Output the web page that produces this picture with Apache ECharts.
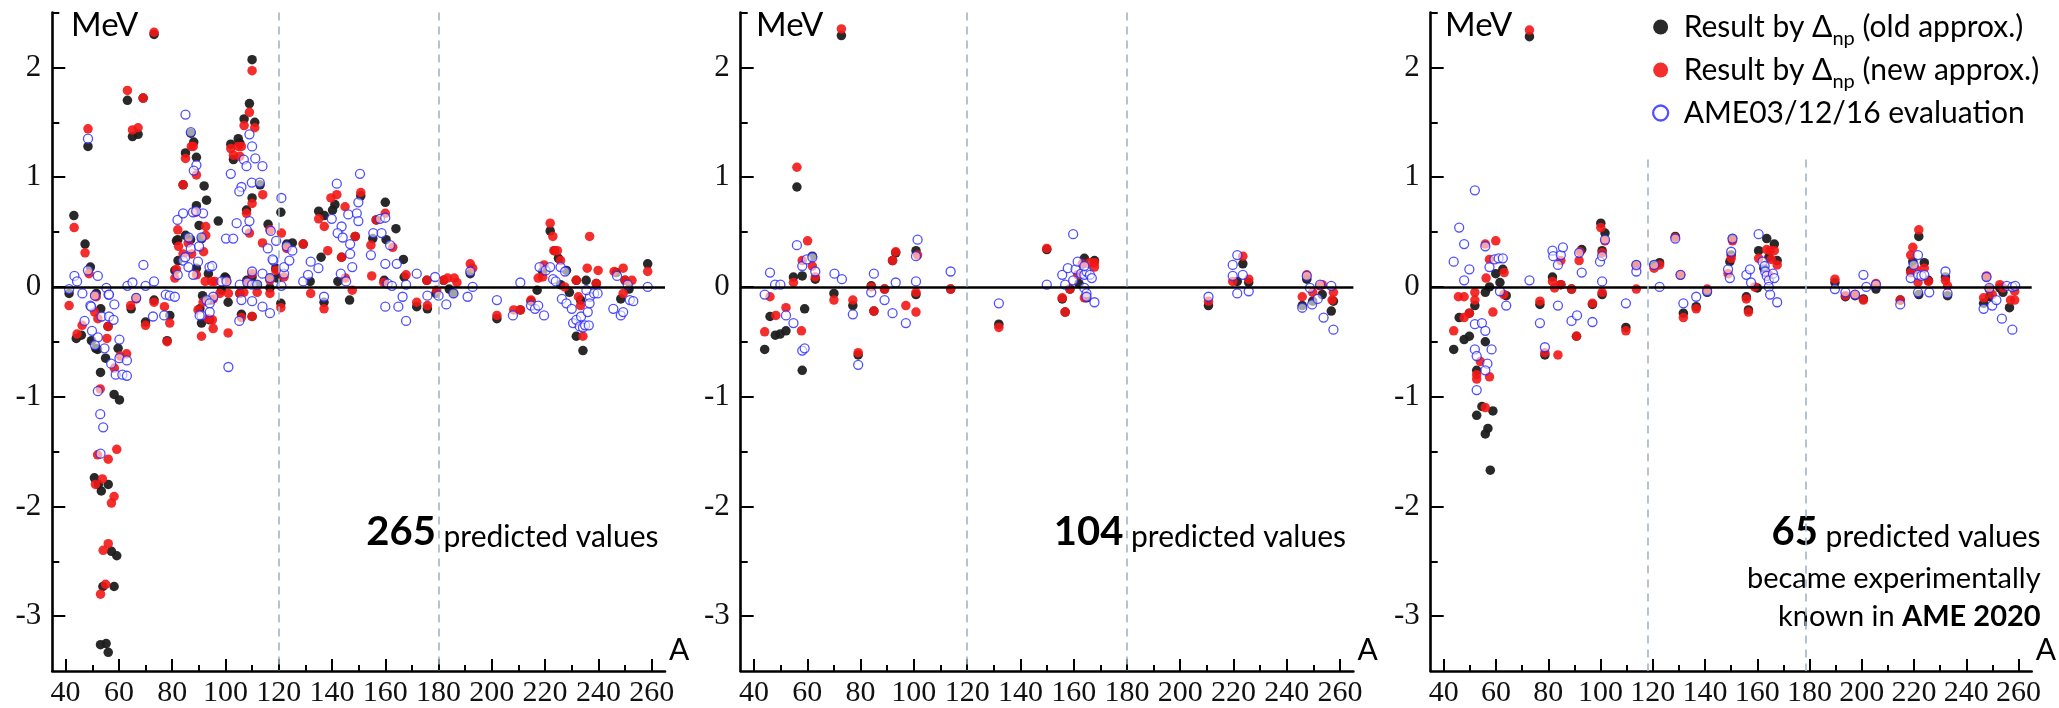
<!DOCTYPE html>
<html>
<head>
<meta charset="utf-8">
<script src="https://cdn.jsdelivr.net/npm/echarts@6/dist/echarts.min.js"></script>
<style>
  html, body { margin: 0; padding: 0; background: #fff; }
  #chart { width: 2059px; height: 708px; }
</style>
</head>
<body>
<div id="chart"></div>
<script>
// ---- axis ticks -----------------------------------------------------------
const xMajorTicks = [40, 60, 80, 100, 120, 140, 160, 180, 200, 220, 240, 260];
const xMinorTicks = [50, 70, 90, 110, 130, 150, 170, 190, 210, 230, 250];
const yMajorTicks = [-3, -2, -1, 0, 1, 2];
const yMinorTicks = [-2.5, -1.5, -0.5, 0.5, 1.5, 2.5];

// shell-closure markers (A) per panel and the value where each dashed line starts
const panelDividers = [[120, 180], [120, 180], [118.1, 178.4]];
const dividerTops = [2.5, 2.5, 1.16];

// number of predicted values in each panel
const predictedCounts = [265, 104, 65];

// ---- panel 1: all predicted values [A, deviation MeV] ---------------------
const panel1Old = [
  [41.3,-0.06],[43.1,0.65],[44.0,-0.47],[45.9,-0.44],[47.3,0.39],[49.3,0.18],[48.4,1.28],[51.5,-0.06],[53.2,-0.20],[55.9,-0.36],
  [49.7,-0.49],[51.3,-0.56],[55.0,-0.65],[52.0,-0.57],[53.1,-0.78],[58.2,-0.98],[60.2,-1.03],[59.7,-0.56],
  [50.8,-1.74],[53.4,-1.86],[52.3,-1.80],[56.0,-1.80],[57.2,-2.41],[59.2,-2.45],[54.0,-2.73],[58.2,-2.73],[53.1,-3.26],[55.2,-3.25],[56.0,-3.33],
  [63.2,1.70],[65.1,1.37],[67.2,1.39],[69.1,1.72],[73.2,2.30],[66.5,-0.10],[64.6,-0.20],[70.0,-0.32],[73.2,-0.12],[78.1,-0.49],[79.1,-0.26],
  [82.1,0.43],[84.1,0.93],[85.0,1.22],[87.0,1.40],[88.1,1.32],[89.1,1.18],[92.0,0.92],[92.9,0.79],[89.1,0.74],[97.3,0.60],[90.1,0.56],
  [81.0,0.15],[82.2,0.24],[81.6,0.42],[85.0,0.47],[86.9,0.43],[89.1,0.17],[91.1,0.44],[93.6,0.12],[99.8,0.09],[98.5,-0.03],[94.5,-0.12],
  [91.4,-0.08],[90.4,-0.20],[94.1,-0.30],[91.0,-0.33],[100.2,0.08],[101.0,-0.14],
  [105.4,1.31],[102.0,1.30],[103.0,1.16],[107.0,1.53],[104.8,1.35],[109.0,1.67],[110.0,2.07],[111.0,1.50],[110.0,0.81],[107.9,0.70],[113.0,0.93],[116.0,0.57],[120.8,0.68],
  [105.4,-0.06],[108.0,0.06],[111.9,0.02],[110.0,0.09],[116.7,0.08],[118.9,0.17],[119.5,0.08],[116.7,-0.01],[110.0,-0.27],[106.0,-0.25],[120.8,-0.15],
  [123.0,0.39],[125.1,0.40],[129.2,0.39],[131.8,0.05],[135.0,0.69],[137.1,0.65],[135.9,0.27],[137.0,-0.14],[141.1,0.75],[140.2,0.70],[150.8,0.83],
  [148.7,0.46],[143.6,0.27],[142.2,0.05],[146.6,-0.12],
  [156.6,0.61],[160.0,0.77],[164.0,0.53],[155.3,0.44],[160.3,0.43],[166.8,0.25],[159.6,0.06],[167.1,0.09],[171.8,-0.18],[175.8,-0.20],[175.6,0.06],[179.0,-0.06],
  [181.9,0.06],[184.0,-0.02],[185.6,-0.06],[191.9,0.12],[201.9,-0.29],[210.7,-0.21],[214.7,-0.13],[217.0,-0.03],[219.1,0.14],[221.9,0.51],[223.5,0.33],
  [225.0,0.26],[228.0,0.15],[225.8,0.02],[229.1,-0.05],[231.7,0.06],[233.3,-0.12],[231.7,-0.45],[234.2,-0.58],[235.4,0.06],[239.2,0.03],[246.7,0.13],
  [248.4,-0.11],[250.0,0.06],[251.5,-0.02],[258.5,0.21]
];
const panel1New = [
  [41.3,-0.17],[43.2,0.54],[44.3,-0.43],[46.2,-0.35],[47.3,0.31],[48.8,0.12],[48.4,1.44],[51.5,-0.09],[51.0,-0.08],[50.9,-0.23],[52.1,-0.29],
  [55.5,-0.47],[56.0,-0.36],[60.5,-0.63],[58.3,-0.74],[53.0,-0.93],[59.2,-1.48],[52.0,-1.53],[56.0,-1.57],[51.2,-1.80],[53.8,-1.75],[58.2,-1.91],
  [57.2,-1.97],[56.0,-2.34],[54.1,-2.40],[55.0,-2.71],[53.1,-2.80],[62.9,-0.61],
  [63.2,1.79],[65.1,1.43],[67.2,1.45],[69.1,1.72],[73.2,2.32],[66.5,-0.11],[64.4,-0.17],[70.0,-0.35],[73.2,-0.14],[78.1,-0.50],[79.1,-0.33],[77.1,-0.18],
  [82.1,0.52],[84.1,0.93],[85.0,1.17],[87.2,1.28],[87.9,1.28],[89.1,1.02],[88.9,0.68],[92.6,0.55],[92.6,0.47],[82.4,0.37],[84.1,0.30],[86.0,0.40],
  [87.3,0.30],[81.6,0.16],[81.0,0.08],[89.1,0.11],[91.8,0.32],[92.4,0.05],[94.8,0.05],[96.0,0.05],[100.4,0.05],[97.9,-0.06],[95.4,-0.11],[91.6,-0.14],
  [89.7,-0.21],[93.5,-0.29],[91.0,-0.45],[95.4,-0.38],[95.1,-0.30],[101.0,-0.42],[101.1,-0.06],
  [105.4,1.19],[102.0,1.26],[103.0,1.20],[107.0,1.47],[104.8,1.28],[106.0,1.28],[109.0,1.59],[110.0,1.97],[111.0,1.45],[110.0,0.76],[107.9,0.67],
  [114.0,0.84],[109.0,0.49],[116.7,0.52],[113.9,0.40],[121.0,0.49],[105.4,-0.06],[106.9,-0.05],[108.2,0.04],[111.9,-0.05],[110.0,0.12],[116.7,0.06],
  [118.9,0.15],[116.7,-0.06],[110.0,-0.27],[106.0,-0.28],[120.8,-0.19],[122.0,0.09],
  [123.0,0.35],[129.2,0.39],[132.0,-0.06],[135.0,0.62],[137.1,0.55],[137.0,-0.20],[139.6,0.81],[141.8,0.84],[144.9,0.73],[150.8,0.86],[148.7,0.46],
  [143.6,0.27],[138.4,0.33],[147.6,-0.03],[145.0,0.08],[154.9,0.10],[156.6,0.61],[160.0,0.67],[154.6,0.38],[159.4,0.04],[162.8,0.36],[167.8,0.11],
  [171.8,-0.14],[175.8,-0.17],[175.6,0.06],[179.3,-0.03],
  [181.9,0.06],[183.4,0.08],[185.9,0.08],[186.9,0.04],[191.9,0.21],[192.8,0.17],[201.9,-0.26],[208.2,-0.21],[210.7,-0.21],[214.7,-0.12],[217.4,0.08],
  [219.1,0.09],[219.6,0.20],[221.9,0.58],[222.9,0.46],[223.3,0.33],[224.6,0.33],[225.8,0.24],[227.4,0.00],[231.7,0.06],[233.3,-0.17],[232.5,-0.09],
  [234.2,-0.45],[235.8,0.17],[236.7,0.46],[239.9,0.15],[239.2,0.03],[245.9,0.14],[249.3,0.17],[250.0,0.06],[249.3,-0.06],[252.6,0.06],[258.5,0.14]
];
const panel1Ame = [
  [41.3,-0.02],[43.3,0.10],[44.3,0.05],[46.3,-0.06],[48.4,0.15],[48.4,1.35],[52.1,0.10],[55.3,-0.01],[56.1,-0.07],[58.3,-0.16],[49.3,-0.17],[47.1,-0.31],
  [51.0,-0.08],[49.6,-0.18],[49.9,-0.40],[53.5,-0.27],[56.3,-0.27],[56.3,-0.07],[58.0,-0.30],[52.1,-0.46],[51.0,-0.53],[54.6,-0.56],[60.2,-0.48],
  [60.2,-0.65],[57.1,-0.70],[58.8,-0.80],[61.3,-0.80],[63.0,-0.81],[63.0,-0.67],[52.1,-0.95],[53.0,-1.16],[54.1,-1.28],[53.1,-1.52],
  [63.2,0.01],[65.1,0.04],[69.2,0.20],[70.0,0.01],[73.2,0.05],[66.5,-0.10],[72.8,-0.27],[77.6,-0.07],[79.1,-0.08],[81.0,-0.09],[77.0,-0.26],
  [82.0,0.61],[84.1,0.67],[85.0,1.57],[87.0,1.41],[89.1,1.11],[88.1,1.06],[91.6,0.67],[87.8,0.68],[89.0,0.69],[100.2,0.44],[102.9,0.44],[104.2,0.58],
  [86.2,0.45],[87.0,0.35],[84.1,0.24],[84.9,0.27],[86.1,0.18],[87.9,0.11],[89.7,0.23],[90.1,0.37],[91.0,0.45],[82.1,0.11],[94.0,0.18],[95.0,0.19],
  [98.5,0.05],[95.4,-0.09],[92.9,-0.12],[94.1,-0.15],[91.0,-0.26],[94.1,-0.23],[100.4,0.05],[101.1,-0.73],[90.3,-0.26],
  [109.0,1.39],[110.0,1.28],[111.2,1.17],[113.9,1.10],[106.9,1.16],[107.9,1.10],[102.0,1.03],[106.0,0.91],[105.2,0.87],[109.9,0.95],[112.9,0.95],
  [109.0,0.60],[108.0,0.52],[117.0,0.51],[119.0,0.42],[118.0,0.24],[121.0,0.81],[113.9,0.12],[110.0,0.14],[105.4,0.02],[106.0,-0.12],[108.2,0.04],
  [110.0,0.02],[110.0,-0.13],[111.9,0.02],[116.7,0.08],[117.7,0.25],[105.2,-0.31],[116.7,-0.24],[113.9,-0.18],[121.0,0.01],[122.0,0.12],[122.0,0.18],[115.9,0.35],
  [123.0,0.37],[125.1,0.33],[124.0,0.24],[129.2,0.05],[131.0,0.11],[132.0,0.23],[134.9,0.17],[137.0,-0.09],[141.8,0.94],[139.9,0.62],[150.5,1.03],
  [149.9,0.77],[149.3,0.67],[149.9,0.60],[146.1,0.66],[143.6,0.55],[142.1,0.49],[144.0,0.45],[146.8,0.39],[146.8,0.30],[143.3,0.12],[145.3,0.05],
  [147.6,0.18],[158.0,0.62],[160.0,0.63],[155.5,0.49],[158.6,0.49],[160.0,0.21],[161.8,0.38],[154.6,0.29],[164.3,0.21],[160.9,0.03],[162.5,0.01],
  [160.0,-0.18],[164.9,-0.18],[167.8,-0.31],[166.5,-0.09],[167.8,0.02],[171.8,0.12],[175.8,-0.08],[178.7,0.09],[180.0,-0.08],
  [182.9,-0.16],[185.6,-0.06],[190.9,-0.09],[191.9,0.14],[192.8,0.00],[201.9,-0.12],[207.9,-0.26],[210.7,0.04],[214.7,-0.17],[216.2,-0.20],[217.4,-0.17],
  [219.6,-0.26],[217.9,0.18],[220.2,0.15],[221.9,0.18],[225.8,0.18],[227.5,0.14],[223.0,0.07],[224.0,0.05],[226.3,-0.11],[228.0,-0.15],[230.0,-0.20],
  [230.5,-0.33],[231.7,-0.30],[233.0,-0.36],[234.2,-0.37],[235.0,-0.35],[236.4,-0.35],[233.5,-0.27],[236.0,-0.23],[236.8,-0.09],[235.5,-0.03],[236.7,-0.15],
  [238.4,-0.06],[239.7,-0.06],[247.0,0.10],[245.6,-0.20],[248.4,-0.26],[249.3,-0.23],[251.0,0.02],[251.8,-0.12],[253.1,-0.13],[258.5,0.00]
];

// ---- panel 2 ---------------------------------------------------------------
const panel2Old = [
  [72.8,2.29],[56.1,0.91],[61.9,0.28],[63.0,0.07],[54.8,0.09],[58.1,0.10],[46.0,-0.27],[59.0,-0.20],[48.0,-0.44],[49.8,-0.43],[52.0,-0.40],[44.0,-0.57],
  [58.1,-0.76],[79.1,-0.62],[70.0,-0.06],[77.1,-0.17],[84.0,0.01],[85.0,-0.22],[89.0,-0.02],[92.0,0.24],[93.2,0.31],[100.8,0.33],[100.8,-0.07],
  [113.8,-0.02],[131.9,-0.34],[149.9,0.34],[155.7,-0.11],[156.8,-0.23],[158.6,-0.02],[164.0,0.26],[162.0,0.03],[164.8,-0.10],[167.8,0.24],
  [210.6,-0.17],[223.5,0.21],[221.4,0.05],[225.7,0.04],[247.5,0.07],[245.8,-0.17],[249.7,-0.13],[253.3,-0.07],[257.5,-0.13],[256.7,-0.22]
];
const panel2New = [
  [72.8,2.35],[56.1,1.09],[60.1,0.42],[58.1,0.24],[61.9,0.19],[63.0,0.09],[54.8,0.04],[46.0,-0.09],[48.2,-0.26],[52.0,-0.19],[44.0,-0.41],[57.8,-0.40],
  [79.1,-0.60],[70.0,-0.12],[77.1,-0.12],[84.0,0.00],[85.0,-0.22],[89.0,-0.02],[92.0,0.24],[93.2,0.32],[97.0,-0.17],[101.4,0.29],[100.8,-0.05],[100.8,-0.23],
  [113.8,-0.02],[131.9,-0.37],[149.9,0.35],[155.7,-0.10],[156.8,-0.23],[158.6,-0.02],[163.2,0.21],[161.5,0.11],[164.0,-0.10],[166.1,0.22],[167.8,0.22],
  [167.8,0.18],[210.6,-0.13],[223.5,0.28],[219.7,0.05],[225.7,0.07],[247.5,0.11],[245.8,-0.09],[249.7,-0.05],[252.5,0.01],[253.3,0.02],[257.5,-0.05],[257.0,-0.12]
];
const panel2Ame = [
  [56.1,0.38],[58.1,0.19],[59.8,0.25],[61.9,0.27],[63.0,0.14],[46.0,0.13],[47.9,0.02],[49.9,0.02],[44.0,-0.07],[52.0,-0.26],[54.8,-0.33],[58.1,-0.58],
  [59.0,-0.56],[79.1,-0.71],[70.2,0.12],[73.0,0.07],[77.1,-0.25],[84.0,-0.05],[85.0,0.12],[89.0,-0.12],[93.2,0.04],[92.0,-0.24],[97.0,-0.33],[101.4,0.43],
  [100.8,0.28],[100.8,0.05],[113.8,0.14],[131.9,-0.15],[149.9,0.02],[159.8,0.48],[155.7,0.11],[157.8,0.17],[156.8,0.02],[159.8,0.06],[160.7,0.16],
  [161.5,0.23],[162.8,0.12],[164.0,0.11],[164.8,0.14],[164.0,0.19],[164.0,-0.01],[164.8,-0.06],[164.8,-0.09],[166.1,0.11],[166.8,0.08],[167.8,-0.14],
  [210.6,-0.09],[219.7,0.20],[221.4,0.29],[219.7,0.10],[223.5,0.11],[221.4,-0.06],[225.7,-0.04],[247.5,0.10],[245.8,-0.19],[248.7,-0.01],[249.5,-0.16],
  [251.6,-0.11],[252.5,0.02],[253.8,-0.28],[257.5,-0.39],[256.7,0.01]
];

// ---- panel 3 ---------------------------------------------------------------
const panel3Old = [
  [72.8,2.28],[59.9,0.12],[62.6,0.16],[61.5,0.04],[57.5,0.00],[55.9,-0.05],[63.9,-0.08],[51.9,-0.17],[45.9,-0.28],[49.8,-0.24],[47.8,-0.48],[49.8,-0.45],
  [43.8,-0.57],[55.9,-0.50],[52.6,-0.76],[54.6,-1.09],[52.6,-1.17],[58.8,-1.13],[56.9,-1.29],[55.9,-1.34],[57.8,-1.67],[78.7,-0.62],[76.8,-0.16],
  [81.6,0.09],[84.8,0.02],[88.9,-0.02],[90.8,-0.45],[92.8,0.34],[96.9,-0.16],[100.1,0.58],[101.7,0.49],[100.6,0.33],[100.6,-0.07],[109.7,-0.37],
  [113.7,0.20],[120.5,0.20],[122.6,0.22],[128.6,0.46],[130.6,0.11],[131.7,-0.24],[136.6,-0.18],[140.8,-0.05],[149.5,0.23],[150.0,0.29],[150.5,0.44],
  [155.8,-0.09],[156.6,-0.21],[160.5,0.33],[163.6,0.44],[164.4,0.27],[166.5,0.39],[167.6,0.24],[162.5,0.17],[160.0,-0.01],
  [189.7,0.04],[193.7,-0.09],[197.4,-0.08],[200.6,-0.11],[205.4,-0.02],[214.7,-0.12],[221.8,0.46],[219.5,0.23],[218.7,0.15],[221.8,-0.07],[223.9,0.22],
  [225.5,0.06],[232.0,0.09],[232.8,-0.08],[246.6,-0.15],[247.7,0.09],[248.8,-0.02],[248.8,-0.09],[252.8,-0.01],[254.0,-0.05],[256.5,-0.19]
];
const panel3New = [
  [72.8,2.34],[55.9,0.39],[59.9,0.42],[57.5,0.25],[56.2,0.08],[63.1,0.13],[63.0,-0.07],[45.6,-0.09],[47.8,-0.09],[51.9,-0.12],[51.9,-0.05],[47.8,-0.28],
  [49.8,-0.24],[58.8,-0.23],[43.8,-0.40],[52.6,-0.80],[52.6,-0.84],[54.0,-0.68],[57.5,-0.82],[55.9,-1.10],[78.7,-0.60],[83.7,-0.62],[76.8,-0.13],
  [81.6,0.05],[84.8,0.24],[84.8,0.02],[82.4,-0.01],[88.9,-0.02],[90.8,-0.45],[92.1,0.32],[91.8,0.24],[96.9,-0.15],[100.1,0.54],[101.7,0.42],[100.6,0.31],
  [100.6,-0.05],[109.7,-0.40],[113.7,0.19],[113.7,-0.02],[120.5,0.17],[122.6,0.20],[128.6,0.45],[130.6,0.11],[131.7,-0.28],[136.6,-0.20],[140.8,-0.02],
  [148.8,0.12],[150.0,0.26],[150.5,0.42],[155.8,-0.11],[156.6,-0.23],[160.5,0.26],[163.6,0.34],[164.9,0.33],[165.3,0.25],[166.5,0.33],[167.6,0.20],
  [164.4,0.11],[159.0,0.00],
  [189.7,0.07],[193.7,-0.08],[197.4,-0.07],[200.6,-0.12],[205.4,0.03],[214.7,-0.12],[218.7,0.29],[219.5,0.36],[221.8,0.52],[220.7,0.16],[218.7,0.13],
  [221.5,0.04],[223.9,0.17],[225.5,0.05],[232.0,0.06],[232.8,0.01],[246.6,-0.10],[247.7,0.10],[248.8,-0.02],[249.9,-0.07],[252.8,0.02],[254.0,-0.01],
  [256.9,-0.12],[258.5,-0.12],[258.5,-0.04]
];
const panel3Ame = [
  [51.9,0.88],[45.9,0.54],[47.8,0.39],[43.8,0.23],[47.8,0.06],[49.8,0.16],[55.9,0.37],[57.5,0.18],[59.4,0.25],[61.0,0.26],[62.6,0.26],[61.5,-0.04],
  [63.9,-0.17],[51.9,-0.34],[54.6,-0.33],[55.9,-0.40],[51.9,-0.57],[58.3,-0.57],[52.6,-0.63],[52.6,-0.94],[56.7,-0.70],[55.9,-0.76],[72.8,0.06],
  [78.7,-0.55],[76.8,-0.33],[81.6,0.33],[81.9,0.28],[83.7,0.20],[84.8,0.29],[85.6,0.36],[83.7,-0.17],[88.9,-0.31],[91.0,-0.26],[91.8,0.31],[92.8,0.13],
  [96.9,-0.32],[101.7,0.43],[99.8,0.23],[100.6,0.28],[100.6,0.05],[109.7,-0.15],[113.7,0.14],[113.7,0.20],[120.5,0.20],[122.6,0.00],[128.6,0.44],
  [130.6,0.11],[131.7,-0.15],[136.6,-0.09],[140.8,-0.04],[148.8,0.16],[150.0,0.32],[150.5,0.44],[149.5,0.08],[155.8,0.11],[157.2,0.16],[157.6,0.04],
  [160.5,0.48],[162.0,0.23],[162.8,0.19],[163.0,0.14],[163.6,0.10],[164.4,0.06],[166.0,0.12],[166.5,0.08],[164.4,0.00],[164.9,-0.07],[167.6,-0.14],
  [189.7,-0.02],[193.7,-0.05],[197.4,-0.07],[200.6,0.11],[201.7,0.00],[205.4,0.02],[214.7,-0.16],[221.5,0.29],[219.8,0.20],[218.7,0.08],[221.5,-0.05],
  [221.5,0.11],[222.8,0.10],[223.9,0.11],[225.8,-0.05],[232.0,0.14],[232.8,-0.06],[246.6,-0.20],[247.7,0.09],[248.8,-0.01],[249.9,-0.17],[251.5,-0.12],
  [253.6,-0.29],[255.5,0.01],[257.6,0.00],[258.7,0.01],[257.6,-0.39]
];

// ---- series names and their legend text ------------------------------------
const NAME_OLD = 'Result by Δnp (old approx.)';
const NAME_NEW = 'Result by Δnp (new approx.)';
const NAME_AME = 'AME03/12/16 evaluation';
const legendText = {
  [NAME_OLD]: '{t|Result by Δ}{s|np}{t| (old approx.)}',
  [NAME_NEW]: '{t|Result by Δ}{s|np}{t| (new approx.)}',
  [NAME_AME]: '{t|AME03/12/16 evaluation}'
};

// ---- build the chart -------------------------------------------------------
const panelData = [
  [panel1Old, panel1New, panel1Ame],
  [panel2Old, panel2New, panel2Ame],
  [panel3Old, panel3New, panel3Ame]
];

const gridLefts = [52.3, 740.7, 1430.7];
const GRID_TOP = 12.5, GRID_W = 612.7, GRID_H = 658.5;
const X_MIN = 35, X_MAX = 265, Y_MIN = -3.5, Y_MAX = 2.5;

const INK = '#000';
const serif = 'Liberation Serif';
const sans = 'Lato';

const styleOld = { color: '#1e1e1e', opacity: 0.95 };
const styleNew = { color: '#f31616', opacity: 0.9 };
const styleAme = { color: 'rgba(255,255,255,0.72)', borderColor: '#2424ff', borderWidth: 1.3 };

const grids = [], xAxes = [], yAxes = [], series = [];

gridLefts.forEach((left, i) => {
  grids.push({ left: left, top: GRID_TOP, width: GRID_W, height: GRID_H });

  const xBase = { type: 'value', gridIndex: i, min: X_MIN, max: X_MAX, position: 'bottom', splitLine: { show: false } };
  xAxes.push({
    ...xBase,
    axisLine: { show: true, onZero: false, lineStyle: { color: INK, width: 2.6 } },
    axisTick: { show: true, inside: true, length: 12, lineStyle: { color: INK, width: 2 }, customValues: xMajorTicks },
    axisLabel: { show: true, customValues: xMajorTicks, fontFamily: serif, fontSize: 30, color: '#111', margin: 7 },
    name: 'A', nameLocation: 'end', nameGap: 4,
    nameTextStyle: { fontFamily: sans, fontSize: 30, color: INK, verticalAlign: 'bottom', padding: [0, 0, 6, 0] }
  });
  xAxes.push({
    ...xBase,
    axisLine: { show: false, onZero: false },
    axisTick: { show: true, inside: true, length: 6, lineStyle: { color: INK, width: 2 }, customValues: xMinorTicks },
    axisLabel: { show: false }
  });

  const yBase = { type: 'value', gridIndex: i, min: Y_MIN, max: Y_MAX, position: 'left', splitLine: { show: false } };
  yAxes.push({
    ...yBase,
    axisLine: { show: true, onZero: false, lineStyle: { color: INK, width: 2.6 } },
    axisTick: { show: true, inside: true, length: 13, lineStyle: { color: INK, width: 2 }, customValues: yMajorTicks },
    axisLabel: { show: true, customValues: yMajorTicks, fontFamily: serif, fontSize: 31, color: '#111', margin: 11 }
  });
  yAxes.push({
    ...yBase,
    axisLine: { show: false, onZero: false },
    axisTick: { show: true, inside: true, length: 7, lineStyle: { color: INK, width: 2 }, customValues: yMinorTicks },
    axisLabel: { show: false }
  });

  const xi = 2 * i, yi = 2 * i;
  const dashed = { color: '#a4b4c6', width: 1.6, type: [8, 6] };

  // zero line and dashed shell markers
  series.push({
    type: 'scatter', name: 'guides' + i, data: [], xAxisIndex: xi, yAxisIndex: yi, z: 1, silent: true,
    markLine: {
      silent: true, animation: false, symbol: ['none', 'none'], label: { show: false },
      data: [
        { yAxis: 0, lineStyle: { color: INK, width: 2.6, type: 'solid' } },
        ...panelDividers[i].map(a => [
          { coord: [a, dividerTops[i]], lineStyle: dashed },
          { coord: [a, Y_MIN] }
        ])
      ]
    }
  });

  const [oldPts, newPts, amePts] = panelData[i];
  const common = { type: 'scatter', xAxisIndex: xi, yAxisIndex: yi, symbol: 'circle', animation: false, emphasis: { disabled: true } };
  series.push({ ...common, name: NAME_OLD, data: oldPts, symbolSize: 9.5, itemStyle: styleOld, z: 2 });
  series.push({ ...common, name: NAME_NEW, data: newPts, symbolSize: 9.5, itemStyle: styleNew, z: 3 });
  series.push({ ...common, name: NAME_AME, data: amePts, symbolSize: 9, itemStyle: styleAme, z: 4 });
});

// "MeV" unit labels and the per-panel notes
const unitLefts = [71, 756, 1445];
const graphics = unitLefts.map(x => ({
  type: 'text', x: x, y: 42, silent: true,
  style: { text: 'MeV', fontFamily: sans, fontSize: 33, fill: INK, verticalAlign: 'bottom' }
}));

const noteRich = {
  b: { fontFamily: sans, fontWeight: 'bold', fontSize: 40, verticalAlign: 'bottom' },
  n: { fontFamily: sans, fontSize: 30, verticalAlign: 'bottom' },
  m: { fontFamily: sans, fontSize: 29, verticalAlign: 'bottom' },
  mb: { fontFamily: sans, fontWeight: 'bold', fontSize: 29, verticalAlign: 'bottom' }
};
const noteRights = [658.5, 1346, 2040.6];
noteRights.forEach((right, i) => {
  graphics.push({
    type: 'text', x: right, y: 552.5, silent: true,
    style: { text: '{b|' + predictedCounts[i] + '}{n| predicted values}', align: 'right', verticalAlign: 'bottom', fill: INK, rich: noteRich }
  });
});
graphics.push({
  type: 'text', x: noteRights[2], y: 593.5, silent: true,
  style: { text: '{m|became experimentally}', align: 'right', verticalAlign: 'bottom', fill: INK, rich: noteRich }
});
graphics.push({
  type: 'text', x: noteRights[2], y: 631.5, silent: true,
  style: { text: '{m|known in }{mb|AME 2020}', align: 'right', verticalAlign: 'bottom', fill: INK, rich: noteRich }
});

const option = {
  backgroundColor: '#fff',
  animation: false,
  grid: grids,
  xAxis: xAxes,
  yAxis: yAxes,
  legend: {
    orient: 'vertical', left: 1652, top: 12, padding: 0,
    itemWidth: 36, itemHeight: 15, itemGap: 6, selectedMode: false,
    data: [
      { name: NAME_OLD },
      { name: NAME_NEW },
      { name: NAME_AME, itemStyle: { borderWidth: 2.3, color: '#fff', borderColor: '#2424ff' } }
    ],
    formatter: name => legendText[name],
    textStyle: {
      fontFamily: sans, fontSize: 30, color: INK,
      rich: {
        t: { fontFamily: sans, fontSize: 30, lineHeight: 44, color: INK, verticalAlign: 'middle' },
        s: { fontFamily: sans, fontSize: 20, color: INK, verticalAlign: 'bottom' }
      }
    }
  },
  graphic: graphics,
  series: series
};

const chart = echarts.init(document.getElementById('chart'), null, { renderer: 'canvas' });
chart.setOption(option);
</script>
</body>
</html>
